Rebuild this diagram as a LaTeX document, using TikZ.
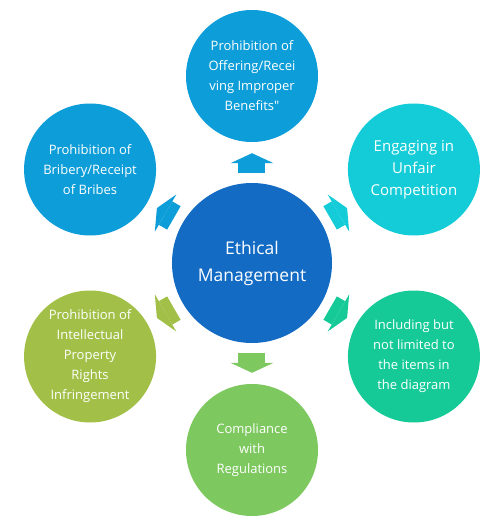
\documentclass[tikz,border=0pt]{standalone}
\usepackage{fontspec}
\setmainfont{Open Sans}
\usepackage{tikz}
\usetikzlibrary{arrows.meta}

\definecolor{hubblue}{RGB}{19,107,196}
\definecolor{skyblue}{RGB}{13,157,216}
\definecolor{tealcyan}{RGB}{20,204,216}
\definecolor{seagreen}{RGB}{22,202,152}
\definecolor{leafgreen}{RGB}{125,200,95}
\definecolor{olivegreen}{RGB}{162,192,72}

\begin{document}
\begin{tikzpicture}[
  x=1pt,y=1pt,
  hub/.style={circle,fill=hubblue,minimum size=160pt,inner sep=0pt,
    text=white,align=center,font=\fontsize{17.5}{27}\selectfont},
  item/.style={circle,minimum size=132pt,inner sep=0pt,
    text=white,align=center,font=\fontsize{13}{20}\selectfont},
  itemL/.style={item,font=\fontsize{15}{22}\selectfont},
  blk/.style={line width=27pt,shorten <=10pt,shorten >=11pt,
    -{Triangle[width=43pt 0 0,length=10pt 0 0,line width=0pt 0 0]}}
]
\useasboundingbox (-252,-257) rectangle (250,263);

\node[hub] (em) at (0,0) {Ethical\\Management};

\node[item,fill=skyblue]    (p1) at (90:187)  {Prohibition of\\Offering/Recei\\ving Improper\\Benefits\textquotedbl};
\node[itemL,fill=tealcyan]  (p2) at (30:187)  {Engaging in\\Unfair\\Competition};
\node[item,fill=seagreen]   (p3) at (-30:187) {Including but\\not limited to\\the items in\\the diagram};
\node[item,fill=leafgreen]  (p4) at (-90:187) {Compliance\\with\\Regulations};
\node[item,fill=olivegreen] (p5) at (-150:187){Prohibition of\\Intellectual\\Property\\Rights\\Infringement};
\node[item,fill=skyblue]    (p6) at (150:187) {Prohibition of\\Bribery/Receipt\\of Bribes};

\draw[blk,skyblue]    (em)--(p1);
\draw[blk,tealcyan]   (em)--(p2);
\draw[blk,seagreen]   (em)--(p3);
\draw[blk,leafgreen]  (em)--(p4);
\draw[blk,olivegreen] (em)--(p5);
\draw[blk,skyblue]    (em)--(p6);
\end{tikzpicture}
\end{document}
